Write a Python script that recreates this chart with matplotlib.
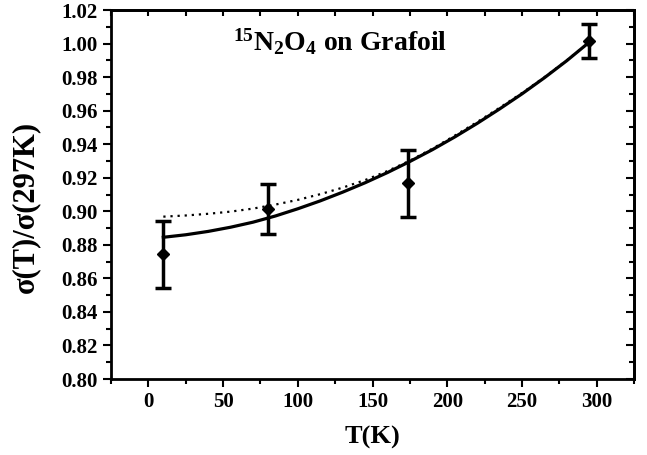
import numpy as np
import matplotlib.pyplot as plt
from matplotlib.ticker import MultipleLocator

plt.rcParams['font.family'] = ['Liberation Serif', 'DejaVu Serif']
plt.rcParams['font.weight'] = 'bold'
plt.rcParams['mathtext.fontset'] = 'custom'
plt.rcParams['mathtext.rm'] = 'Liberation Serif:bold'
plt.rcParams['mathtext.it'] = 'Liberation Serif:bold'
plt.rcParams['mathtext.bf'] = 'Liberation Serif:bold'

# measured points
T_data = [10, 80, 174, 295]
ratio_data = [0.8745, 0.9014, 0.9167, 1.0014]
ratio_err = [0.020, 0.015, 0.020, 0.010]

# solid fit curve
T_fit = [10, 25, 40, 55, 70, 85, 100, 115, 130, 145, 160, 175, 190, 205, 220, 235, 250, 265, 280, 295]
ratio_fit = [0.8845, 0.8860, 0.8880, 0.8905, 0.8935, 0.8972, 0.9015, 0.9062, 0.9114, 0.9170,
             0.9231, 0.9297, 0.9367, 0.9443, 0.9524, 0.9610, 0.9700, 0.9796, 0.9898, 1.0008]

# dotted fit curve
T_dot = [10, 25, 40, 55, 70, 85, 100, 115, 130, 145, 160, 175, 190, 205, 220, 235, 250, 265, 280, 295]
ratio_dot = [0.8968, 0.8975, 0.8985, 0.8998, 0.9016, 0.9040, 0.9068, 0.9102, 0.9141, 0.9186,
             0.9240, 0.9302, 0.9373, 0.9451, 0.9532, 0.9617, 0.9705, 0.9799, 0.9900, 1.0008]

fig = plt.figure(figsize=(6.47, 4.55), dpi=100)
ax = fig.add_axes([0.1716, 0.167, 0.8084, 0.811])

ax.plot(T_fit, ratio_fit, color='black', linewidth=2.3)
ax.plot(T_dot, ratio_dot, color='black', linewidth=1.6, linestyle=(0, (1, 2.2)))
ax.errorbar(T_data, ratio_data, yerr=ratio_err, fmt='D', color='black',
            markersize=6.5, elinewidth=2.5, capsize=6, capthick=2.5)

ax.set_xlim(-25, 325)
ax.set_ylim(0.80, 1.02)
ax.xaxis.set_major_locator(MultipleLocator(50))
ax.xaxis.set_minor_locator(MultipleLocator(25))
ax.yaxis.set_major_locator(MultipleLocator(0.02))
ax.yaxis.set_minor_locator(MultipleLocator(0.01))
ax.yaxis.set_major_formatter(plt.FormatStrFormatter('%.2f'))

ax.tick_params(which='both', direction='out', top=False, right=False, width=1.5, labelsize=15)
ax.tick_params(which='major', length=6)
ax.tick_params(which='minor', length=3.5)
# inward ticks on top and right
ax2 = ax.secondary_xaxis('top')
ax2.xaxis.set_major_locator(MultipleLocator(50))
ax2.xaxis.set_minor_locator(MultipleLocator(25))
ax2.tick_params(which='both', direction='in', length=4, width=1.5, labeltop=False)
ax3 = ax.secondary_yaxis('right')
ax3.yaxis.set_major_locator(MultipleLocator(0.02))
ax3.yaxis.set_minor_locator(MultipleLocator(0.01))
ax3.tick_params(which='major', direction='in', length=6, width=1.5, labelright=False)
ax3.tick_params(which='minor', direction='in', length=3.5, width=1.5)

for s in ax.spines.values():
    s.set_linewidth(2)
ax2.spines['top'].set_linewidth(2)
ax3.spines['right'].set_linewidth(2)

for lab in ax.get_xticklabels() + ax.get_yticklabels():
    lab.set_fontweight('bold')

ax.set_xlabel('T(K)', fontsize=19, fontweight='bold', labelpad=10)
ax.set_ylabel('σ(T)/σ(297K)', fontsize=22, fontweight='bold')
ax.yaxis.set_label_coords(-0.135, 0.465)
ax.text(128, 1.001, r'$^{15}$N$_2$O$_4$ on Grafoil', fontsize=20, fontweight='bold',
        ha='center', va='center')

plt.savefig('out.png', dpi=100)
